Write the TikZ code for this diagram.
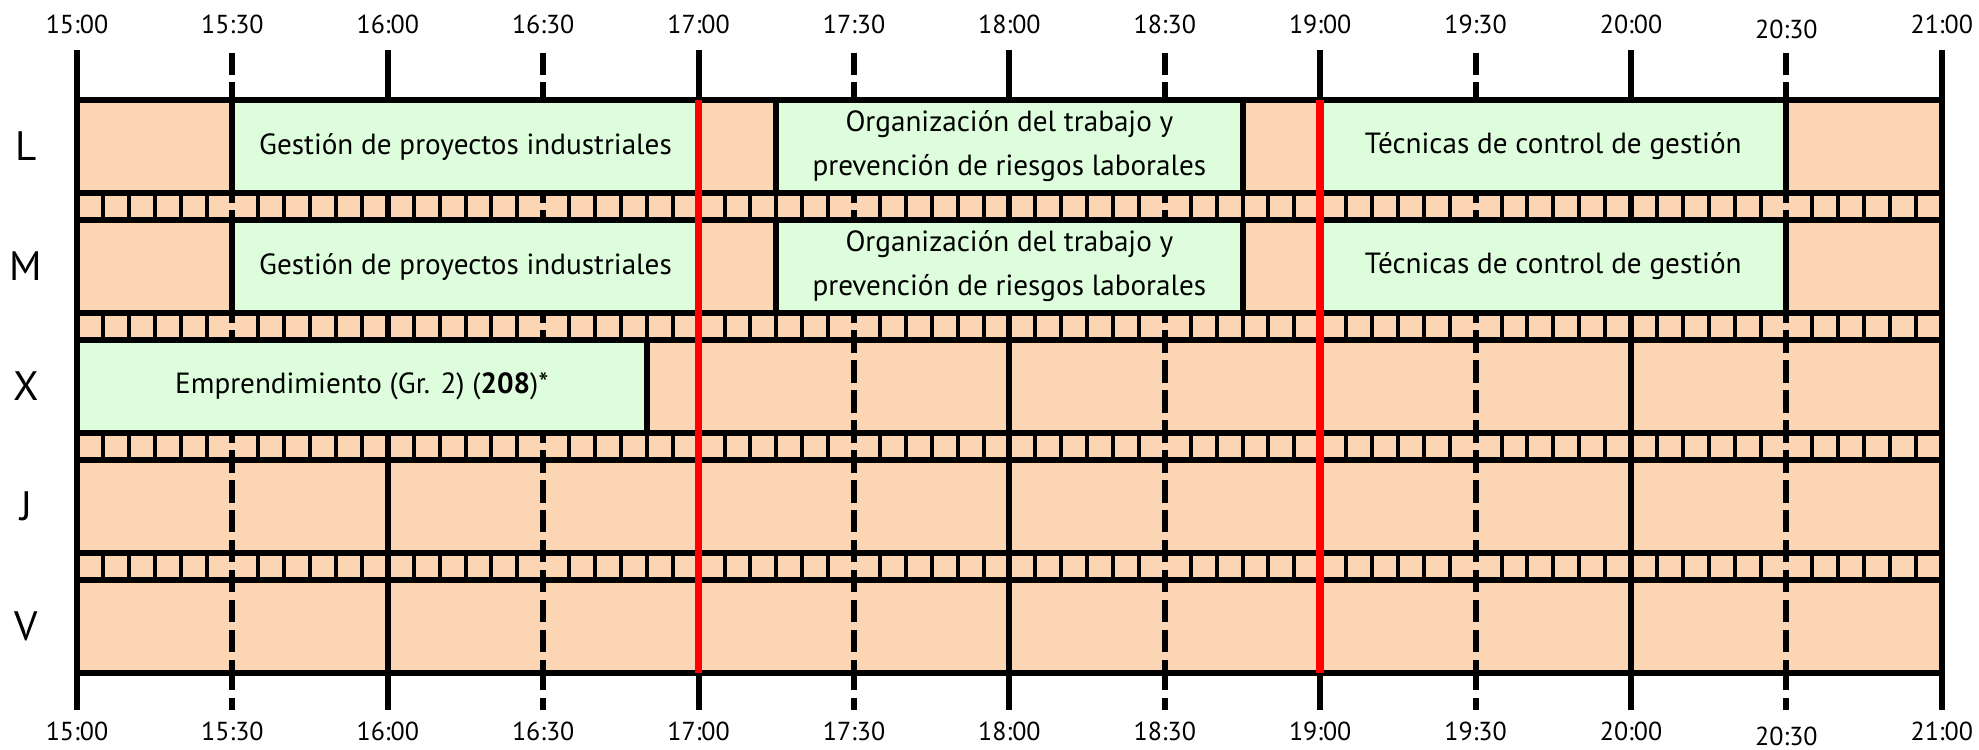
\documentclass[tikz,border=0pt]{standalone}
\usepackage{fontspec}
\setmainfont{PT Sans}
\definecolor{peach}{HTML}{FCD5B4}
\definecolor{mint}{HTML}{DDFDDC}
\tikzset{
  full/.style={line width=1.71pt},
  half/.style={line width=1.71pt, dash pattern=on 6.4pt off 2.13pt, dash phase=#1},
  fine/.style={line width=1.14pt},
  course/.style={draw, line width=1.71pt, fill=mint},
  redline/.style={red, line width=2.2pt},
  hourlab/.style={font=\fontsize{7.4}{9}\selectfont, inner sep=1pt},
  daylab/.style={font=\fontsize{11.7}{14}\selectfont},
  coursetxt/.style={font=\fontsize{8.3}{12.5}\selectfont, align=center}
}

\begin{document}
\begin{tikzpicture}[x=3.108cm, y=-1cm]
\useasboundingbox (-0.2478,0) rectangle (6.1197,7.49);
\fill[peach] (0,1) rectangle (6,6.73);
% 5 minute marks in the strips between the days
\foreach \s in {1.93,3.13,4.33,5.53}
  \foreach \h in {0,0.5,...,5.5}
    \foreach \m in {1,...,5}
      \draw[fine] (\h+\m/12,\s) -- (\h+\m/12,\s+0.27);
% hours solid, half hours dashed
\foreach \t in {0,...,6}
  \draw[full] (\t,0.5) -- (\t,7.1);
\foreach \t in {0.5,1.5,...,5.5} {
  \draw[half=7.82pt] (\t,0.5) -- (\t,1);
  \draw[half=2.77pt] (\t,1) -- (\t,6.73);
  \draw[half=1.56pt] (\t,6.73) -- (\t,7.1);
}
% courses, L and M first, then X
\draw[course] (0.5,1) rectangle (2,1.93) node[pos=.5, coursetxt] (gestionL) {Gestión de proyectos industriales};
\draw[course] (2.25,1) rectangle (3.75,1.93) node[pos=.5, coursetxt] (orgL) {Organización del trabajo y\\prevención de riesgos laborales};
\draw[course] (4,1) rectangle (5.5,1.93) node[pos=.5, coursetxt] (tecnicasL) {Técnicas de control de gestión};
\draw[course] (0.5,2.2) rectangle (2,3.13) node[pos=.5, coursetxt] (gestionM) {Gestión de proyectos industriales};
\draw[course] (2.25,2.2) rectangle (3.75,3.13) node[pos=.5, coursetxt] (orgM) {Organización del trabajo y\\prevención de riesgos laborales};
\draw[course] (4,2.2) rectangle (5.5,3.13) node[pos=.5, coursetxt] (tecnicasM) {Técnicas de control de gestión};
\draw[course] (0,3.4) rectangle (1.8333,4.33) node[pos=.5, coursetxt] (emprendX) {Emprendimiento (Gr. 2) (\textbf{208})*};
% day rows
\foreach \y in {1,2.2,3.4,4.6,5.8} {
  \draw[full] (0,\y) -- (6,\y);
  \draw[full] (0,\y+0.93) -- (6,\y+0.93);
}
\draw[redline] (2,1) -- (2,6.73);
\draw[redline] (4,1) -- (4,6.73);
% labels
\foreach \d/\y in {L/1.465,M/2.665,X/3.865,J/5.065,V/6.265}
  \node[daylab] (day\d) at (-0.164,\y) {\d};
\foreach \t/\lab/\dy [count=\i] in {0/15:00/0,0.5/15:30/0,1/16:00/0,1.5/16:30/0,2/17:00/0,2.5/17:30/0,3/18:00/0,3.5/18:30/0,4/19:00/0,4.5/19:30/0,5/20:00/0,5.5/20:30/0.05,6/21:00/0} {
  \node[hourlab] (top\i) at (\t,0.24+\dy) {\lab};
  \node[hourlab] (bot\i) at (\t,7.315+\dy) {\lab};
}
\end{tikzpicture}
\end{document}
